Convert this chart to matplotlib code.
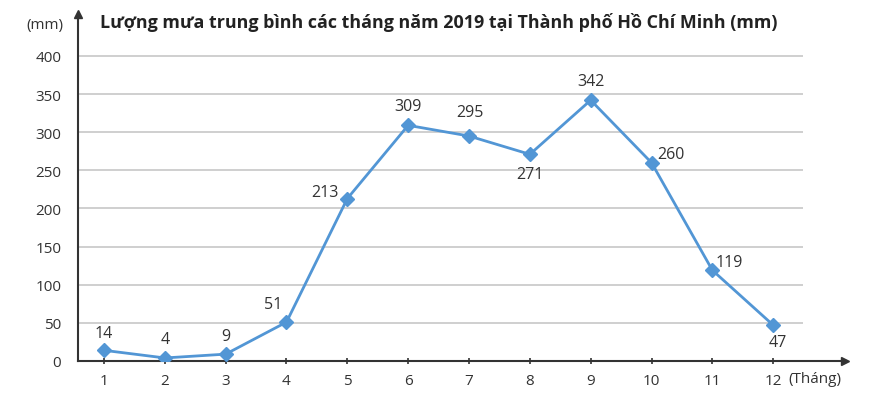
import matplotlib.pyplot as plt

# Data
months = [1, 2, 3, 4, 5, 6, 7, 8, 9, 10, 11, 12]
rainfall = [14, 4, 9, 51, 213, 309, 295, 271, 342, 260, 119, 47]
y_ticks = [0, 50, 100, 150, 200, 250, 300, 350, 400]

# label offsets (points) for each value label
label_offsets = [(0, 12.5), (0, 13.5), (0, 13), (-9.5, 13), (-16, 5), (0, 14),
                 (1, 17), (0, -14), (0, 14), (14, 6.5), (12.5, 6), (3, -12)]

plt.rcParams['font.family'] = ['Open Sans', 'DejaVu Sans']

fig = plt.figure(figsize=(8.94, 4.02), dpi=100)
ax = fig.add_axes([78 / 894, 40 / 402, (845 - 78) / 894, 347 / 402])

x_min, x_max = 0.573, 13.18
ax.set_xlim(x_min, x_max)
ax.set_ylim(0, 455)

# gridlines
ax.hlines(y_ticks[1:], x_min, 12.49, color='#cccccc', linewidth=1.3, zorder=1)

# line
ax.plot(months, rainfall, color='#5296d5', linewidth=2, marker='D',
        markersize=7, zorder=3)

for m, v, off in zip(months, rainfall, label_offsets):
    ax.annotate(str(v), (m, v), xytext=off, textcoords='offset points',
                ha='center', va='center', fontsize=11.5, color='#333333')

# axes
for s in ['top', 'right']:
    ax.spines[s].set_visible(False)
for s in ['left', 'bottom']:
    ax.spines[s].set_color('#333333')
    ax.spines[s].set_linewidth(1.5)
ax.plot(1, 0, '>', color='#333333', markersize=6, transform=ax.transAxes, clip_on=False)
ax.plot(0, 1, '^', color='#333333', markersize=6, transform=ax.transAxes, clip_on=False)

ax.set_xticks(months)
ax.set_yticks(y_ticks)
ax.tick_params(axis='x', direction='inout', length=5, width=1.2, color='#333333',
               labelsize=11, labelcolor='#333333', pad=6)
ax.tick_params(axis='y', length=0, labelsize=11, labelcolor='#333333', pad=12)

fig.text(788 / 894, 1 - 380 / 402, '(Tháng)', fontsize=11, color='#333333',
         ha='left', va='center')
fig.text(26 / 894, 1 - 25 / 402, '(mm)', fontsize=11, color='#333333',
         ha='left', va='center')
fig.text(100 / 894, 1 - 22 / 402,
         'Lượng mưa trung bình các tháng năm 2019 tại Thành phố Hồ Chí Minh (mm)',
         fontsize=12.9, fontweight='bold', color='#222222', ha='left', va='center')

fig.savefig('out.png', dpi=100)
